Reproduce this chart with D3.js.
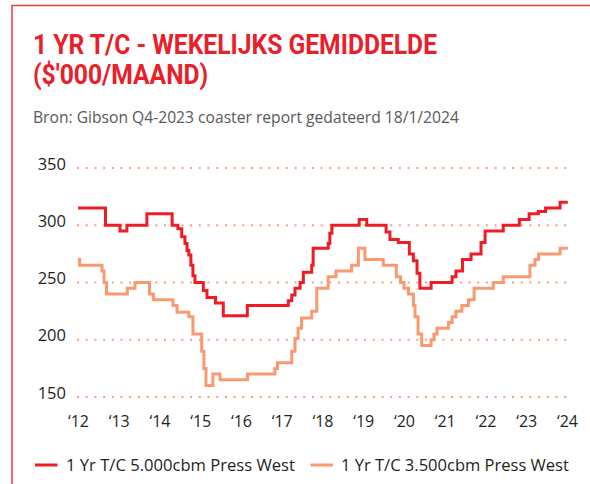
<!DOCTYPE html>
<html>
<head>
<meta charset="utf-8">
<script src="https://cdn.jsdelivr.net/npm/d3@7"></script>
<style>
  html, body { margin: 0; padding: 0; background: #fff; }
  svg { display: block; }
</style>
</head>
<body>
<div id="chart"></div>
<script>
// ---- Data ----
const titleLines = ["1 YR T/C - WEKELIJKS GEMIDDELDE", "($'000/MAAND)"];
const subtitle = "Bron: Gibson Q4-2023 coaster report gedateerd 18/1/2024";

const seriesNames = ["1 Yr T/C 5.000cbm Press West", "1 Yr T/C 3.500cbm Press West"];

// 5.000 cbm: date (decimal year) and value at each step
const redDates = [2012.00, 2012.675, 2013.03, 2013.20, 2013.69, 2014.31, 2014.45, 2014.545, 2014.625, 2014.675,
  2014.72, 2014.77, 2014.82, 2014.87, 2015.075, 2015.165, 2015.375, 2015.565, 2016.155, 2017.16,
  2017.245, 2017.325, 2017.45, 2017.53, 2017.735, 2017.77, 2018.14, 2018.18, 2018.23, 2018.90,
  2019.085, 2019.56, 2019.655, 2019.86, 2020.13, 2020.23, 2020.32, 2020.39, 2020.665, 2021.18,
  2021.275, 2021.435, 2021.645, 2021.89, 2021.99, 2022.435, 2022.83, 2023.07, 2023.295, 2023.475,
  2023.83, 2024.02];
const redValues = [315, 300, 295, 300, 310, 300, 297, 290, 284, 278,
  274, 265, 256, 250, 243, 237, 232, 221, 230, 234,
  239, 245, 250, 259, 265, 280, 284, 293, 300, 305,
  300, 294, 287.5, 285, 275, 269, 258, 245, 250, 255,
  260, 270, 275, 285, 295, 300, 305, 310, 312, 315,
  320, 320];

// 3.500 cbm
const orangeDates = [2012.00, 2012.04, 2012.59, 2012.64, 2012.70, 2013.21, 2013.40, 2013.755, 2013.85, 2014.33,
  2014.43, 2014.72, 2014.82, 2015.035, 2015.09, 2015.14, 2015.31, 2015.485, 2016.16, 2016.83,
  2016.895, 2017.245, 2017.325, 2017.40, 2017.485, 2017.735, 2017.86, 2018.14, 2018.33, 2018.715,
  2018.88, 2019.04, 2019.49, 2019.81, 2019.915, 2020.00, 2020.11, 2020.23, 2020.27, 2020.345,
  2020.435, 2020.665, 2020.735, 2020.81, 2021.09, 2021.18, 2021.275, 2021.42, 2021.58, 2021.72,
  2022.19, 2022.435, 2023.09, 2023.215, 2023.30, 2023.83, 2024.02];
const orangeValues = [270, 265, 260, 250, 240, 245, 250, 240, 235, 230,
  224, 220, 205, 190, 175, 160, 170, 165, 170, 175,
  180, 190, 201, 210, 219, 225, 245, 255, 260, 265,
  280, 270, 265, 255, 250, 245, 240, 230, 220, 205,
  195, 200, 205, 210, 215, 220, 225, 230, 235, 245,
  250, 255, 265, 270, 275, 280, 280];

const yTicks = [150, 200, 250, 300, 350];
const xTickYears = [2012, 2013, 2014, 2015, 2016, 2017, 2018, 2019, 2020, 2021, 2022, 2023, 2024];
const xTickLabels = ["\u201812", "\u201813", "\u201814", "\u201815", "\u201816", "\u201817", "\u201818",
  "\u201819", "\u201820", "\u201821", "\u201822", "\u201823", "\u201824"];

// ---- Drawing ----
const W = 590, H = 484;
const RED = "#ee1d25", ORANGE = "#f8996f", GRID = "#f7a07e";
const FONT = "'Open Sans', 'Noto Sans', 'DejaVu Sans', sans-serif";
const TFONT = "Roboto, 'Open Sans', sans-serif";

const svg = d3.select("#chart").append("svg").attr("width", W).attr("height", H);

// frame
svg.append("path")
  .attr("d", "M12,484 L12,5.5 L600,5.5")
  .attr("fill", "none").attr("stroke", "#ef3a44").attr("stroke-width", 1.5);

function fit(sel, target) {
  const node = sel.node();
  const fs = parseFloat(sel.attr("font-size"));
  const len = node.getComputedTextLength();
  if (len > 0) sel.attr("font-size", (fs * target / len).toFixed(2));
  return sel;
}

// title (28px, squeezed horizontally to the reference width)
const t1 = svg.append("text").attr("x", 33).attr("y", 53.5).attr("font-family", TFONT)
  .attr("font-weight", 700).attr("font-size", 28).attr("fill", "#e8202a").text(titleLines[0]);
const t1len = t1.node().getComputedTextLength();
t1.attr("textLength", 404).attr("lengthAdjust", "spacingAndGlyphs");
const t2 = svg.append("text").attr("x", 33).attr("y", 83.5).attr("font-family", TFONT)
  .attr("font-weight", 700).attr("font-size", 28).attr("fill", "#e8202a").text(titleLines[1]);
const t2len = t2.node().getComputedTextLength();
t2.attr("textLength", (t2len * 404 / t1len).toFixed(1)).attr("lengthAdjust", "spacingAndGlyphs");

// subtitle
const st = svg.append("text").attr("x", 33).attr("y", 122.5).attr("font-family", FONT)
  .attr("font-size", 15).attr("fill", "#58595b").text(subtitle);
fit(st, 426);

// scales
const x = d3.scaleLinear().domain([2012, 2024]).range([78, 567]);
const y = d3.scaleLinear().domain([150, 350]).range([397, 168]);

// gridlines
svg.append("g").selectAll("line").data(yTicks).join("line")
  .attr("x1", 77).attr("x2", 569)
  .attr("y1", d => y(d)).attr("y2", d => y(d))
  .attr("stroke", GRID).attr("stroke-width", 2)
  .attr("stroke-dasharray", "2 6.7");

// y labels
svg.append("g").selectAll("text").data(yTicks).join("text")
  .attr("x", 66).attr("y", d => y(d) + 1.5)
  .attr("text-anchor", "end").attr("font-family", FONT).attr("font-size", 16.5)
  .attr("fill", "#231f20").text(d => d);

// x labels
svg.append("g").selectAll("text").data(xTickYears).join("text")
  .attr("x", d => x(d) + 0.5).attr("y", 427)
  .attr("text-anchor", "middle").attr("font-family", FONT).attr("font-size", 16)
  .attr("fill", "#231f20").text((d, i) => xTickLabels[i]);

// lines
const line = d3.line().x(d => x(d[0])).y(d => y(d[1])).curve(d3.curveStepAfter);
const redData = redDates.map((d, i) => [d, redValues[i]]);
const orangeData = orangeDates.map((d, i) => [d, orangeValues[i]]);

svg.append("path").datum(orangeData).attr("d", line)
  .attr("fill", "none").attr("stroke", ORANGE).attr("stroke-width", 3)
  .attr("stroke-linejoin", "miter");
svg.append("path").datum(redData).attr("d", line)
  .attr("fill", "none").attr("stroke", RED).attr("stroke-width", 3)
  .attr("stroke-linejoin", "miter");

// legend
const legend = [
  { name: seriesNames[0], color: RED, x0: 35, x1: 57.5, tx: 66, tw: 229 },
  { name: seriesNames[1], color: ORANGE, x0: 310.5, x1: 333, tx: 341, tw: 228 }
];
legend.forEach(l => {
  svg.append("line").attr("x1", l.x0).attr("x2", l.x1).attr("y1", 465).attr("y2", 465)
    .attr("stroke", l.color).attr("stroke-width", 3);
  const tt = svg.append("text").attr("x", l.tx).attr("y", 470.5).attr("font-family", FONT)
    .attr("font-size", 15).attr("fill", "#231f20").text(l.name);
  fit(tt, l.tw);
});
</script>
</body>
</html>
